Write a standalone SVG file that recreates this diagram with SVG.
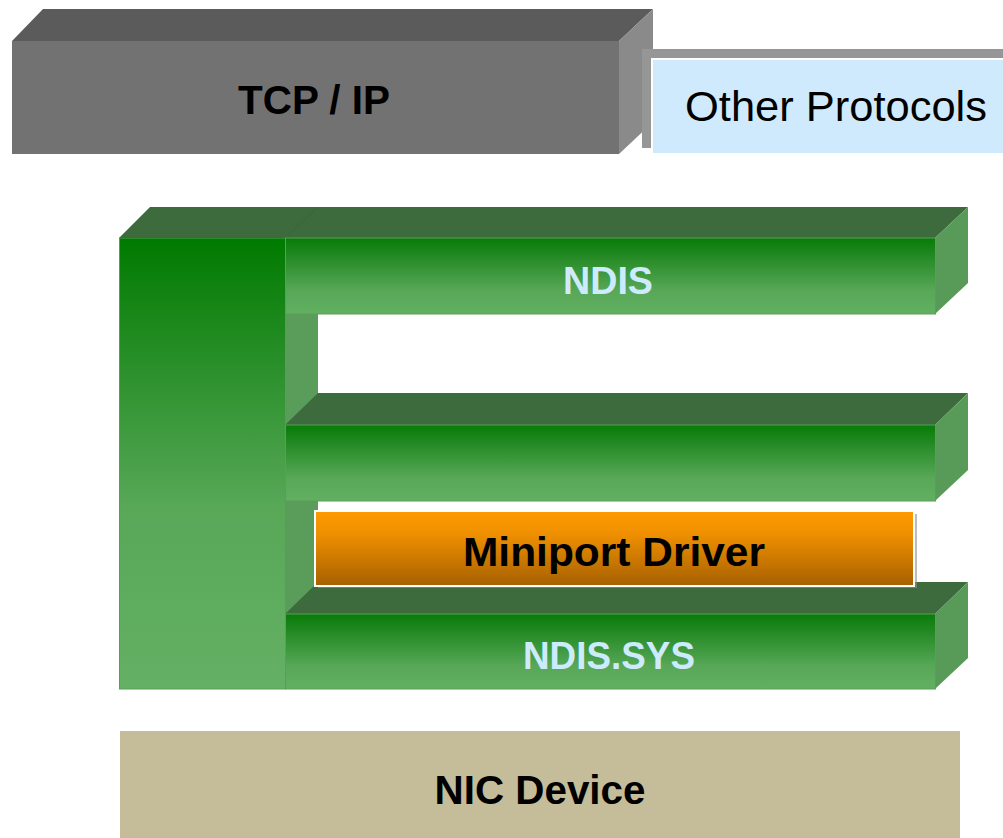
<svg xmlns="http://www.w3.org/2000/svg" width="1003" height="838" viewBox="0 0 1003 838">
  <defs>
    <linearGradient id="gBar" x1="0" y1="0" x2="0" y2="1">
      <stop offset="0" stop-color="#077c07"/>
      <stop offset="0.2" stop-color="#1f871f"/>
      <stop offset="0.7" stop-color="#58a858"/>
      <stop offset="1" stop-color="#62af62"/>
    </linearGradient>
    <linearGradient id="gColumn" x1="0" y1="0" x2="0" y2="1">
      <stop offset="0" stop-color="#007a00"/>
      <stop offset="0.6" stop-color="#58a858"/>
      <stop offset="1" stop-color="#64b064"/>
    </linearGradient>
    <linearGradient id="gOrange" x1="0" y1="0" x2="0" y2="1">
      <stop offset="0" stop-color="#ff9a00"/>
      <stop offset="0.3" stop-color="#f09000"/>
      <stop offset="1" stop-color="#a66000"/>
    </linearGradient>
    <style>
      .lbl { font-family: "Liberation Sans", Arial, sans-serif; text-anchor: middle; }
      .bold { font-weight: bold; }
      .top { fill: #3d6b3d; }
      .side { fill: #589a58; }
      .front { fill: url(#gBar); stroke: #5a9e5a; stroke-width: 1; }
      .light { fill: #cdebfc; }
    </style>
  </defs>

  <!-- TCP / IP block -->
  <g id="tcpip">
    <polygon points="12,41 43,9 653,9 619,41" fill="#5b5b5b"/>
    <polygon points="619,41 653,9 653,122 619,154" fill="#8a8a8a"/>
    <rect x="12" y="41" width="607" height="113" fill="#727272"/>
    <text class="lbl bold" x="314" y="114" font-size="40" textLength="152" lengthAdjust="spacingAndGlyphs">TCP / IP</text>
  </g>

  <!-- Other protocols box -->
  <g id="other-protocols">
    <rect x="642" y="49" width="361" height="99" fill="#969696"/>
    <rect x="652" y="59" width="352" height="95" fill="#cfeafc" stroke="#ffffff" stroke-width="2"/>
    <text class="lbl" x="836" y="121" font-size="42" textLength="302" lengthAdjust="spacingAndGlyphs">Other Protocols</text>
  </g>

  <!-- NDIS frame: vertical column and upper bar -->
  <g id="ndis">
    <rect x="119.5" y="238" width="166" height="451" fill="url(#gColumn)" stroke="#55a055" stroke-width="1"/>
    <rect x="285" y="238" width="33" height="451" fill="#5a9c5a"/>
    <polygon points="119,238 150,207 968,207 935,238" class="top"/>
    <line x1="285" y1="238" x2="318" y2="207" stroke="#3a663a" stroke-width="1"/>
    <polygon points="935,238 968,207 968,283 935,314" class="side"/>
    <rect x="285.5" y="238" width="650" height="76" class="front"/>
    <text class="lbl bold light" x="608" y="294" font-size="38" textLength="90" lengthAdjust="spacingAndGlyphs">NDIS</text>
  </g>

  <!-- Middle bar -->
  <g id="middle-bar">
    <polygon points="285,425 318,393 968,393 935,425" class="top"/>
    <polygon points="935,425 968,393 968,470 935,501" class="side"/>
    <rect x="285.5" y="425" width="650" height="76" class="front"/>
  </g>

  <!-- Lower bar -->
  <g id="ndis-sys">
    <polygon points="285,614 318,582 968,582 935,614" class="top"/>
    <polygon points="935,614 968,582 968,658 935,689" class="side"/>
    <rect x="285.5" y="614" width="650" height="75" class="front"/>
    <text class="lbl bold light" x="609" y="669" font-size="39" textLength="172" lengthAdjust="spacingAndGlyphs">NDIS.SYS</text>
  </g>

  <!-- Miniport driver -->
  <g id="miniport">
    <rect x="318" y="514" width="599" height="74" fill="#8f8f8f" opacity="0.6"/>
    <rect x="315" y="511" width="599" height="75" fill="url(#gOrange)" stroke="#ffffff" stroke-width="2"/>
    <text class="lbl bold" x="614" y="566" font-size="41" textLength="302" lengthAdjust="spacingAndGlyphs">Miniport Driver</text>
  </g>

  <!-- NIC device -->
  <g id="nic-device">
    <rect x="120" y="731" width="840" height="107" fill="#c5bd99"/>
    <text class="lbl bold" x="540" y="804" font-size="40" textLength="211" lengthAdjust="spacingAndGlyphs">NIC Device</text>
  </g>
</svg>
